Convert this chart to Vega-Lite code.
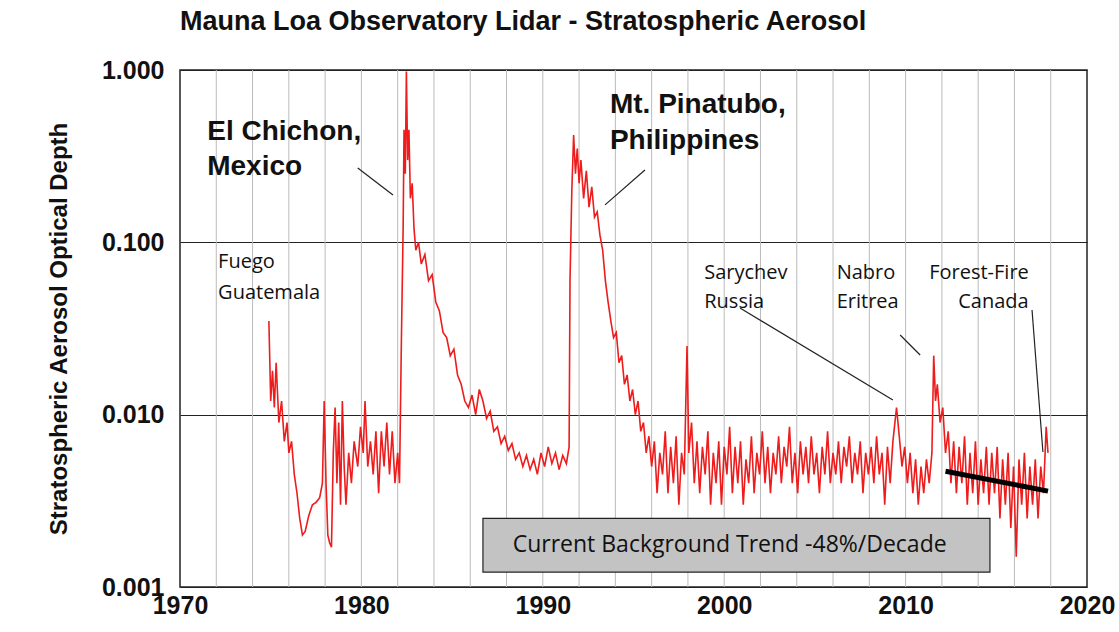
{
"$schema": "https://vega.github.io/schema/vega-lite/v6.json",
"width": 907, "height": 517,
"autosize": "none",
"padding": {"left": 180, "top": 70, "right": 32, "bottom": 45},
"background": "white",
"title": {"text": "Mauna Loa Observatory Lidar - Stratospheric Aerosol", "anchor": "start", "frame": "group", "font": "Liberation Sans", "fontSize": 27, "fontWeight": "bold", "color": "#111", "offset": 22},
"config": {"view": {"stroke": "#222", "strokeWidth": 1.5}},
"datasets": {
"years": [{"t":1972},{"t":1974},{"t":1976},{"t":1978},{"t":1980},{"t":1982},{"t":1984},{"t":1986},{"t":1988},{"t":1990},{"t":1992},{"t":1994},{"t":1996},{"t":1998},{"t":2000},{"t":2002},{"t":2004},{"t":2006},{"t":2008},{"t":2010},{"t":2012},{"t":2014},{"t":2016},{"t":2018}],
"obs": [
{"t":1974.9,"v":0.035},{"t":1975.0,"v":0.012},{"t":1975.1,"v":0.018},{"t":1975.2,"v":0.011},{"t":1975.3,"v":0.02},{"t":1975.45,"v":0.009},{"t":1975.6,"v":0.012},{"t":1975.75,"v":0.007},{"t":1975.9,"v":0.009},{"t":1976.0,"v":0.006},{"t":1976.15,"v":0.007},{"t":1976.3,"v":0.0045},{"t":1976.45,"v":0.0035},{"t":1976.6,"v":0.0025},{"t":1976.75,"v":0.002},{"t":1976.9,"v":0.0021},{"t":1977.1,"v":0.0026},{"t":1977.3,"v":0.003},{"t":1977.5,"v":0.0031},{"t":1977.7,"v":0.0033},{"t":1977.85,"v":0.004},{"t":1977.95,"v":0.012},{"t":1978.05,"v":0.004},{"t":1978.15,"v":0.002},{"t":1978.25,"v":0.0018},{"t":1978.35,"v":0.0017},{"t":1978.45,"v":0.006},{"t":1978.55,"v":0.011},{"t":1978.65,"v":0.004},{"t":1978.75,"v":0.009},{"t":1978.85,"v":0.003},{"t":1978.95,"v":0.012},{"t":1979.05,"v":0.005},{"t":1979.15,"v":0.003},{"t":1979.3,"v":0.006},{"t":1979.45,"v":0.004},{"t":1979.6,"v":0.007},{"t":1979.8,"v":0.005},{"t":1979.95,"v":0.0085},{"t":1980.1,"v":0.006},{"t":1980.2,"v":0.012},{"t":1980.35,"v":0.005},{"t":1980.5,"v":0.007},{"t":1980.65,"v":0.0045},{"t":1980.8,"v":0.008},{"t":1980.95,"v":0.0035},{"t":1981.1,"v":0.008},{"t":1981.25,"v":0.005},{"t":1981.4,"v":0.009},{"t":1981.55,"v":0.0045},{"t":1981.7,"v":0.008},{"t":1981.85,"v":0.004},{"t":1982.0,"v":0.006},{"t":1982.1,"v":0.004},{"t":1982.2,"v":0.025},{"t":1982.3,"v":0.12},{"t":1982.35,"v":0.45},{"t":1982.42,"v":0.25},{"t":1982.48,"v":0.98},{"t":1982.55,"v":0.3},{"t":1982.62,"v":0.45},{"t":1982.7,"v":0.18},{"t":1982.8,"v":0.22},{"t":1982.9,"v":0.12},{"t":1983.0,"v":0.09},{"t":1983.15,"v":0.1},{"t":1983.3,"v":0.075},{"t":1983.5,"v":0.085},{"t":1983.7,"v":0.06},{"t":1983.9,"v":0.065},{"t":1984.1,"v":0.045},{"t":1984.3,"v":0.04},{"t":1984.5,"v":0.03},{"t":1984.7,"v":0.028},{"t":1984.9,"v":0.022},{"t":1985.1,"v":0.024},{"t":1985.3,"v":0.017},{"t":1985.5,"v":0.015},{"t":1985.7,"v":0.012},{"t":1985.9,"v":0.011},{"t":1986.1,"v":0.013},{"t":1986.3,"v":0.01},{"t":1986.5,"v":0.014},{"t":1986.7,"v":0.012},{"t":1986.9,"v":0.0095},{"t":1987.1,"v":0.0105},{"t":1987.3,"v":0.008},{"t":1987.5,"v":0.0085},{"t":1987.7,"v":0.0068},{"t":1987.9,"v":0.0075},{"t":1988.1,"v":0.0062},{"t":1988.3,"v":0.0068},{"t":1988.5,"v":0.0055},{"t":1988.7,"v":0.006},{"t":1988.9,"v":0.005},{"t":1989.1,"v":0.0058},{"t":1989.3,"v":0.0048},{"t":1989.5,"v":0.0055},{"t":1989.7,"v":0.0045},{"t":1989.9,"v":0.006},{"t":1990.1,"v":0.005},{"t":1990.3,"v":0.0065},{"t":1990.5,"v":0.0052},{"t":1990.7,"v":0.006},{"t":1990.9,"v":0.0048},{"t":1991.1,"v":0.0058},{"t":1991.3,"v":0.0052},{"t":1991.45,"v":0.0065},{"t":1991.5,"v":0.06},{"t":1991.6,"v":0.2},{"t":1991.7,"v":0.42},{"t":1991.8,"v":0.25},{"t":1991.9,"v":0.35},{"t":1992.0,"v":0.22},{"t":1992.1,"v":0.3},{"t":1992.25,"v":0.18},{"t":1992.4,"v":0.26},{"t":1992.55,"v":0.16},{"t":1992.7,"v":0.21},{"t":1992.85,"v":0.14},{"t":1993.0,"v":0.15},{"t":1993.15,"v":0.11},{"t":1993.3,"v":0.09},{"t":1993.45,"v":0.06},{"t":1993.6,"v":0.045},{"t":1993.75,"v":0.035},{"t":1993.9,"v":0.028},{"t":1994.05,"v":0.03},{"t":1994.2,"v":0.02},{"t":1994.35,"v":0.022},{"t":1994.5,"v":0.015},{"t":1994.65,"v":0.017},{"t":1994.8,"v":0.012},{"t":1994.95,"v":0.014},{"t":1995.1,"v":0.01},{"t":1995.25,"v":0.012},{"t":1995.4,"v":0.008},{"t":1995.55,"v":0.009},{"t":1995.7,"v":0.006},{"t":1995.85,"v":0.0075},{"t":1996.0,"v":0.005},{"t":1996.15,"v":0.007},{"t":1996.3,"v":0.0035},{"t":1996.45,"v":0.006},{"t":1996.6,"v":0.0045},{"t":1996.75,"v":0.008},{"t":1996.9,"v":0.0035},{"t":1997.05,"v":0.0065},{"t":1997.2,"v":0.004},{"t":1997.35,"v":0.0075},{"t":1997.5,"v":0.003},{"t":1997.65,"v":0.006},{"t":1997.8,"v":0.0045},{"t":1997.95,"v":0.025},{"t":1998.05,"v":0.006},{"t":1998.2,"v":0.009},{"t":1998.35,"v":0.004},{"t":1998.5,"v":0.007},{"t":1998.65,"v":0.0035},{"t":1998.8,"v":0.0065},{"t":1998.95,"v":0.0045},{"t":1999.1,"v":0.008},{"t":1999.25,"v":0.003},{"t":1999.4,"v":0.006},{"t":1999.55,"v":0.004},{"t":1999.7,"v":0.007},{"t":1999.85,"v":0.003},{"t":2000.0,"v":0.0065},{"t":2000.15,"v":0.0045},{"t":2000.3,"v":0.0085},{"t":2000.45,"v":0.0035},{"t":2000.6,"v":0.0065},{"t":2000.75,"v":0.004},{"t":2000.9,"v":0.007},{"t":2001.05,"v":0.003},{"t":2001.2,"v":0.0055},{"t":2001.35,"v":0.004},{"t":2001.5,"v":0.0075},{"t":2001.65,"v":0.0035},{"t":2001.8,"v":0.006},{"t":2001.95,"v":0.0045},{"t":2002.1,"v":0.008},{"t":2002.25,"v":0.004},{"t":2002.4,"v":0.0065},{"t":2002.55,"v":0.0035},{"t":2002.7,"v":0.006},{"t":2002.85,"v":0.0045},{"t":2003.0,"v":0.0075},{"t":2003.15,"v":0.004},{"t":2003.3,"v":0.0065},{"t":2003.45,"v":0.005},{"t":2003.6,"v":0.0085},{"t":2003.75,"v":0.004},{"t":2003.9,"v":0.006},{"t":2004.05,"v":0.0035},{"t":2004.2,"v":0.007},{"t":2004.35,"v":0.0045},{"t":2004.5,"v":0.0065},{"t":2004.65,"v":0.004},{"t":2004.8,"v":0.0075},{"t":2004.95,"v":0.0045},{"t":2005.1,"v":0.006},{"t":2005.25,"v":0.0035},{"t":2005.4,"v":0.0065},{"t":2005.55,"v":0.0045},{"t":2005.7,"v":0.008},{"t":2005.85,"v":0.004},{"t":2006.0,"v":0.006},{"t":2006.15,"v":0.0045},{"t":2006.3,"v":0.007},{"t":2006.45,"v":0.004},{"t":2006.6,"v":0.0065},{"t":2006.75,"v":0.005},{"t":2006.9,"v":0.0075},{"t":2007.05,"v":0.004},{"t":2007.2,"v":0.006},{"t":2007.35,"v":0.0045},{"t":2007.5,"v":0.007},{"t":2007.65,"v":0.0035},{"t":2007.8,"v":0.006},{"t":2007.95,"v":0.0045},{"t":2008.1,"v":0.0065},{"t":2008.25,"v":0.004},{"t":2008.4,"v":0.0075},{"t":2008.55,"v":0.0045},{"t":2008.7,"v":0.006},{"t":2008.85,"v":0.003},{"t":2009.0,"v":0.0065},{"t":2009.15,"v":0.004},{"t":2009.3,"v":0.007},{"t":2009.5,"v":0.011},{"t":2009.65,"v":0.0075},{"t":2009.8,"v":0.005},{"t":2009.95,"v":0.0065},{"t":2010.1,"v":0.004},{"t":2010.25,"v":0.006},{"t":2010.4,"v":0.0035},{"t":2010.55,"v":0.0055},{"t":2010.7,"v":0.003},{"t":2010.85,"v":0.005},{"t":2011.0,"v":0.0035},{"t":2011.15,"v":0.0055},{"t":2011.3,"v":0.004},{"t":2011.45,"v":0.006},{"t":2011.55,"v":0.022},{"t":2011.65,"v":0.012},{"t":2011.75,"v":0.015},{"t":2011.9,"v":0.009},{"t":2012.05,"v":0.011},{"t":2012.2,"v":0.006},{"t":2012.35,"v":0.008},{"t":2012.5,"v":0.004},{"t":2012.65,"v":0.007},{"t":2012.8,"v":0.0035},{"t":2012.95,"v":0.0065},{"t":2013.1,"v":0.004},{"t":2013.25,"v":0.0075},{"t":2013.4,"v":0.003},{"t":2013.55,"v":0.006},{"t":2013.7,"v":0.0035},{"t":2013.85,"v":0.007},{"t":2014.0,"v":0.003},{"t":2014.15,"v":0.0055},{"t":2014.3,"v":0.0035},{"t":2014.45,"v":0.0065},{"t":2014.6,"v":0.003},{"t":2014.75,"v":0.006},{"t":2014.9,"v":0.0035},{"t":2015.05,"v":0.0065},{"t":2015.2,"v":0.0025},{"t":2015.35,"v":0.0055},{"t":2015.5,"v":0.003},{"t":2015.65,"v":0.006},{"t":2015.8,"v":0.0022},{"t":2015.95,"v":0.005},{"t":2016.1,"v":0.0015},{"t":2016.25,"v":0.0055},{"t":2016.4,"v":0.003},{"t":2016.55,"v":0.006},{"t":2016.7,"v":0.0025},{"t":2016.85,"v":0.005},{"t":2017.0,"v":0.003},{"t":2017.15,"v":0.0055},{"t":2017.3,"v":0.0025},{"t":2017.45,"v":0.005},{"t":2017.6,"v":0.0035},{"t":2017.75,"v":0.0085},{"t":2017.85,"v":0.006}
],
"big": [
{"t":1971.5,"v":0.436,"label":"El Chichon,"},{"t":1971.5,"v":0.274,"label":"Mexico"},
{"t":1993.7,"v":0.626,"label":"Mt. Pinatubo,"},{"t":1993.7,"v":0.387,"label":"Philippines"}
],
"small": [
{"t":1972.1,"v":0.0769,"label":"Fuego"},{"t":1972.1,"v":0.0508,"label":"Guatemala"},
{"t":1998.9,"v":0.0664,"label":"Sarychev"},{"t":1998.9,"v":0.045,"label":"Russia"},
{"t":2006.2,"v":0.0664,"label":"Nabro"},{"t":2006.2,"v":0.045,"label":"Eritrea"},
{"t":2011.3,"v":0.0664,"label":"Forest-Fire"},{"t":2012.9,"v":0.045,"label":"Canada"}
],
"arrows": [
{"t":1979.8,"v":0.27,"t2":1981.74,"v2":0.188},
{"t":1995.63,"v":0.263,"t2":1993.43,"v2":0.165},
{"t":2000.87,"v":0.0416,"t2":2009.3,"v2":0.01217},
{"t":2009.7,"v":0.029,"t2":2010.8,"v2":0.0222},
{"t":2016.97,"v":0.0405,"t2":2017.57,"v2":0.00607}
]
},
"layer": [
{
"data": {"name": "years"},
"mark": {"type": "rule", "color": "#bbb", "strokeWidth": 1},
"encoding": {"x": {"field": "t", "type": "quantitative", "scale": {"domain": [1970, 2020], "nice": false, "zero": false},
"axis": {"title": null, "values": [1970, 1980, 1990, 2000, 2010, 2020], "format": "d", "grid": false, "labelOverlap": false, "labelBound": false, "labelFlush": false, "labelFont": "Liberation Sans", "labelFontSize": 25, "labelFontWeight": "bold", "labelColor": "#111", "ticks": false, "domain": false, "labelPadding": 6}}}
},
{
"data": {"name": "obs"},
"mark": {"type": "line", "color": "#ee1c1c", "strokeWidth": 1.6, "clip": true},
"encoding": {
"x": {"field": "t", "type": "quantitative"},
"y": {"field": "v", "type": "quantitative", "scale": {"type": "log", "domain": [0.001, 1], "nice": false},
"axis": {"title": "Stratospheric Aerosol Optical Depth", "titleFont": "Liberation Sans", "titleFontSize": 24, "titleFontWeight": "bold", "titleColor": "#111", "titlePadding": 30, "values": [0.001, 0.01, 0.1, 1], "format": ".3f", "labelOverlap": false, "labelFlush": false, "labelFont": "Liberation Sans", "labelFontSize": 25, "labelFontWeight": "bold", "labelColor": "#111", "gridColor": "#222", "ticks": false, "domain": false, "labelPadding": 16}}
}
},
{
"data": {"values": [{"t":1986.7,"v":0.0025,"t2":2014.65,"v2":0.00122}]},
"mark": {"type": "rect", "fill": "#c3c3c3", "stroke": "#222", "strokeWidth": 1.2},
"encoding": {"x": {"field": "t", "type": "quantitative"}, "x2": {"field": "t2"}, "y": {"field": "v", "type": "quantitative"}, "y2": {"field": "v2"}}
},
{
"data": {"values": [{"t":2000.3,"v":0.00175,"label":"Current Background Trend -48%/Decade"}]},
"mark": {"type": "text", "font": "Open Sans", "fontSize": 23, "color": "#111"},
"encoding": {"x": {"field": "t", "type": "quantitative"}, "y": {"field": "v", "type": "quantitative"}, "text": {"field": "label"}}
},
{
"data": {"values": [{"t":2012.2,"v":0.0047,"t2":2017.85,"v2":0.0036}]},
"mark": {"type": "rule", "color": "black", "strokeWidth": 5},
"encoding": {"x": {"field": "t", "type": "quantitative"}, "x2": {"field": "t2"}, "y": {"field": "v", "type": "quantitative"}, "y2": {"field": "v2"}}
},
{
"data": {"name": "arrows"},
"mark": {"type": "rule", "color": "#222", "strokeWidth": 1.2},
"encoding": {"x": {"field": "t", "type": "quantitative"}, "x2": {"field": "t2"}, "y": {"field": "v", "type": "quantitative"}, "y2": {"field": "v2"}}
},
{
"data": {"name": "big"},
"mark": {"type": "text", "align": "left", "font": "Liberation Sans", "fontSize": 28, "fontWeight": "bold", "color": "#111"},
"encoding": {"x": {"field": "t", "type": "quantitative"}, "y": {"field": "v", "type": "quantitative"}, "text": {"field": "label"}}
},
{
"data": {"name": "small"},
"mark": {"type": "text", "align": "left", "font": "Open Sans", "fontSize": 20, "color": "#111"},
"encoding": {"x": {"field": "t", "type": "quantitative"}, "y": {"field": "v", "type": "quantitative"}, "text": {"field": "label"}}
}
]
}
